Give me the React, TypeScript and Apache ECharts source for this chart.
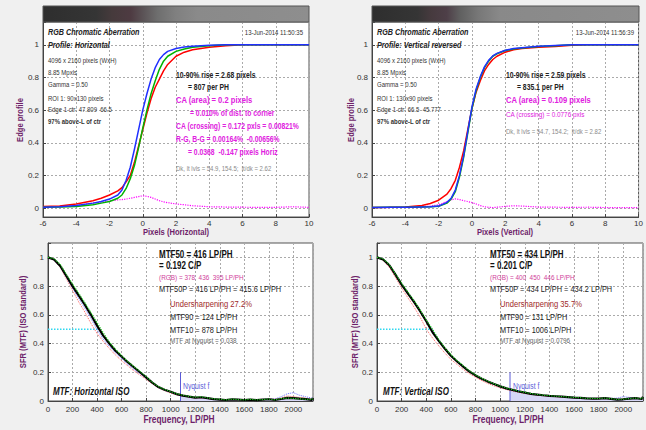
import React, { useEffect, useRef } from 'react';
import * as echarts from 'echarts';

const FONT = '"Liberation Sans", Arial, sans-serif';
const SX = 0.8; // horizontal condensing of annotation text

// ---------- Edge profile data (pixels) ----------
const edgeX = [-6, -5, -4, -3, -2.5, -2, -1.5, -1.25, -1, -0.75, -0.5, -0.25, 0, 0.25, 0.5, 0.75, 1, 1.25, 1.5, 2, 2.5, 3, 4, 5, 6, 7, 8, 9, 10];

const hRed = [0.010, 0.013, 0.025, 0.045, 0.060, 0.080, 0.105, 0.125, 0.160, 0.200, 0.280, 0.380, 0.480, 0.580, 0.670, 0.740, 0.790, 0.840, 0.880, 0.930, 0.955, 0.970, 0.985, 0.995, 1.0, 1.0, 1.0, 1.0, 1.0];
const hGreen = [0.005, 0.007, 0.010, 0.020, 0.030, 0.040, 0.060, 0.080, 0.120, 0.180, 0.260, 0.370, 0.490, 0.600, 0.700, 0.780, 0.850, 0.900, 0.930, 0.960, 0.975, 0.985, 0.995, 1.0, 1.0, 1.0, 1.0, 1.0, 1.0];
const hBlue = [0.005, 0.008, 0.015, 0.030, 0.040, 0.055, 0.080, 0.110, 0.170, 0.250, 0.360, 0.480, 0.600, 0.700, 0.790, 0.860, 0.910, 0.940, 0.960, 0.978, 0.987, 0.992, 0.998, 1.0, 1.0, 1.0, 1.0, 1.0, 1.0];
const hDiff = [0.005, 0.008, 0.015, 0.030, 0.035, 0.043, 0.050, 0.052, 0.055, 0.060, 0.065, 0.070, 0.075, 0.072, 0.065, 0.055, 0.045, 0.038, 0.033, 0.025, 0.020, 0.014, 0.008, 0.006, 0.005, 0.004, 0.004, 0.008, 0.004];

const vRed = [0.003, 0.004, 0.006, 0.015, 0.028, 0.048, 0.085, 0.120, 0.170, 0.250, 0.350, 0.480, 0.610, 0.710, 0.780, 0.840, 0.880, 0.910, 0.930, 0.955, 0.970, 0.978, 0.985, 0.990, 0.998, 1.0, 1.0, 1.0, 1.0];
const vGreen = [0.003, 0.004, 0.005, 0.007, 0.008, 0.011, 0.030, 0.055, 0.100, 0.190, 0.310, 0.460, 0.610, 0.720, 0.800, 0.860, 0.900, 0.930, 0.945, 0.965, 0.975, 0.980, 0.990, 0.995, 1.0, 1.0, 1.0, 1.0, 1.0];
const vBlue = [0.003, 0.004, 0.005, 0.007, 0.008, 0.012, 0.035, 0.060, 0.110, 0.200, 0.320, 0.470, 0.620, 0.730, 0.805, 0.865, 0.905, 0.932, 0.948, 0.967, 0.977, 0.982, 0.991, 0.996, 1.0, 1.0, 1.0, 1.0, 1.0];
const vDiff = [0.002, 0.003, 0.004, 0.008, 0.012, 0.020, 0.040, 0.050, 0.056, 0.052, 0.045, 0.040, 0.033, 0.025, 0.015, 0.008, 0.004, 0.003, 0.005, 0.010, 0.014, 0.012, 0.006, 0.005, 0.004, 0.005, 0.003, 0.003, 0.003];

// ---------- MTF data (LP/PH) ----------
const freq = [0, 50, 100, 150, 200, 250, 300, 350, 400, 450, 500, 550, 600, 650, 700, 750, 800, 850, 900, 950, 1000, 1050, 1100, 1150, 1200, 1250, 1300, 1350, 1400, 1450, 1500, 1550, 1600, 1650, 1700, 1750, 1800, 1850, 1900, 1950, 2000, 2050, 2100, 2150, 2160];

const hMtfK = [1.0, 0.985, 0.94, 0.87, 0.80, 0.735, 0.67, 0.60, 0.525, 0.455, 0.40, 0.35, 0.31, 0.27, 0.235, 0.20, 0.165, 0.128, 0.097, 0.078, 0.064, 0.048, 0.037, 0.030, 0.024, 0.026, 0.020, 0.013, 0.010, 0.007, 0.011, 0.009, 0.007, 0.010, 0.006, 0.009, 0.012, 0.007, 0.014, 0.022, 0.020, 0.016, 0.013, 0.008, 0.020];
const hMtfR = [1.0, 0.98, 0.93, 0.85, 0.77, 0.69, 0.62, 0.54, 0.47, 0.415, 0.365, 0.32, 0.28, 0.245, 0.21, 0.18, 0.15, 0.12, 0.092, 0.072, 0.055, 0.042, 0.034, 0.028, 0.020, 0.022, 0.017, 0.012, 0.009, 0.008, 0.010, 0.008, 0.009, 0.007, 0.010, 0.006, 0.015, 0.012, 0.020, 0.035, 0.030, 0.025, 0.020, 0.012, 0.015];
const hMtfG = [1.0, 0.99, 0.95, 0.88, 0.815, 0.75, 0.685, 0.615, 0.545, 0.475, 0.41, 0.36, 0.315, 0.275, 0.24, 0.205, 0.17, 0.13, 0.10, 0.08, 0.065, 0.05, 0.04, 0.032, 0.026, 0.030, 0.022, 0.015, 0.012, 0.008, 0.013, 0.010, 0.008, 0.012, 0.008, 0.010, 0.014, 0.008, 0.016, 0.020, 0.018, 0.015, 0.012, 0.010, 0.022];
const hMtfB = [1.0, 0.98, 0.935, 0.86, 0.785, 0.715, 0.645, 0.575, 0.495, 0.43, 0.38, 0.335, 0.295, 0.255, 0.22, 0.19, 0.158, 0.125, 0.095, 0.075, 0.06, 0.045, 0.035, 0.03, 0.022, 0.024, 0.018, 0.013, 0.010, 0.008, 0.012, 0.010, 0.009, 0.011, 0.008, 0.010, 0.016, 0.014, 0.030, 0.050, 0.058, 0.040, 0.030, 0.020, 0.025];

const vMtfK = [1.0, 0.985, 0.945, 0.88, 0.81, 0.75, 0.69, 0.625, 0.555, 0.48, 0.42, 0.365, 0.315, 0.275, 0.24, 0.205, 0.178, 0.155, 0.135, 0.118, 0.102, 0.088, 0.077, 0.067, 0.058, 0.050, 0.045, 0.040, 0.036, 0.033, 0.030, 0.027, 0.024, 0.022, 0.018, 0.017, 0.016, 0.020, 0.015, 0.010, 0.012, 0.016, 0.020, 0.014, 0.030];
const vMtfR = [1.0, 0.98, 0.93, 0.86, 0.785, 0.72, 0.655, 0.585, 0.50, 0.44, 0.385, 0.335, 0.29, 0.255, 0.22, 0.19, 0.165, 0.142, 0.122, 0.105, 0.092, 0.080, 0.070, 0.060, 0.052, 0.046, 0.041, 0.036, 0.034, 0.030, 0.028, 0.026, 0.022, 0.020, 0.020, 0.016, 0.018, 0.022, 0.016, 0.012, 0.014, 0.018, 0.022, 0.016, 0.025];
const vMtfG = [1.0, 0.99, 0.95, 0.885, 0.82, 0.76, 0.70, 0.635, 0.565, 0.50, 0.43, 0.372, 0.322, 0.282, 0.246, 0.21, 0.182, 0.158, 0.138, 0.12, 0.104, 0.09, 0.079, 0.069, 0.06, 0.052, 0.046, 0.041, 0.037, 0.034, 0.031, 0.028, 0.025, 0.023, 0.019, 0.018, 0.017, 0.021, 0.016, 0.011, 0.013, 0.017, 0.021, 0.015, 0.030];
const vMtfB = [1.0, 0.99, 0.948, 0.883, 0.818, 0.757, 0.697, 0.632, 0.562, 0.496, 0.428, 0.37, 0.32, 0.28, 0.244, 0.208, 0.18, 0.156, 0.136, 0.119, 0.103, 0.089, 0.078, 0.068, 0.059, 0.051, 0.045, 0.040, 0.036, 0.033, 0.030, 0.028, 0.025, 0.022, 0.020, 0.018, 0.017, 0.020, 0.018, 0.020, 0.030, 0.025, 0.020, 0.015, 0.020];

const nyquistF = 1080;
const nyqLineTop = 0.2;
const hMtf50 = 416;
const vMtf50 = 434;
const hNyqMtf = 0.038;
const vNyqMtf = 0.0796;

const edgeTicks = [-6, -4, -2, 0, 2, 4, 6, 8, 10];

const pairs = (xs: number[], ys: number[]) => xs.map((x, i) => [x, ys[i]]);

const nyqArea = (ys: number[], nyqVal: number) => {
  const out: number[][] = [[nyquistF, nyqVal]];
  freq.forEach((f, i) => {
    if (f > nyquistF) out.push([f, ys[i]]);
  });
  return out;
};

const fnt = (size: number, bold = false, italic = false) =>
  `${italic ? 'italic ' : ''}${bold ? 'bold ' : ''}${size}px ${FONT}`;

const txt = (
  x: number,
  y: number,
  text: string,
  o: { size?: number; bold?: boolean; italic?: boolean; color?: string; align?: string; rotate?: boolean } = {}
) => ({
  type: 'text',
  x,
  y,
  scaleX: SX,
  rotation: o.rotate ? Math.PI / 2 : 0,
  silent: true,
  z: 100,
  style: {
    text,
    fill: o.color || '#222',
    font: fnt(o.size || 7.5, o.bold, o.italic),
    textAlign: o.align || 'left',
    align: o.align || 'left',
    textVerticalAlign: 'middle',
    verticalAlign: 'middle',
  },
});

const MAG = '#e020e0';
const NAME_COLOR = '#6e1f6a';

const line = (ai: number, data: number[][], color: string, width: number, type: any = 'solid', z = 2) => ({
  type: 'line',
  xAxisIndex: ai,
  yAxisIndex: ai,
  data,
  symbol: 'none',
  showSymbol: false,
  silent: true,
  z,
  lineStyle: { color, width, type },
  itemStyle: { color },
});

const multipleFmt = (step: number) => (v: number) => {
  const k = v / step;
  if (Math.abs(k - Math.round(k)) > 1e-6) return '';
  const r = Math.round(v * 10) / 10;
  return String(r === 0 ? 0 : r);
};

const axisBase = {
  axisLine: { show: true, onZero: false, lineStyle: { color: '#444', width: 1 } },
  axisTick: { show: true, inside: true, length: 3, lineStyle: { color: '#444' } },
  splitLine: { show: true, lineStyle: { color: '#aaaaaa', type: [2, 2], width: 1 } },
};

const labelBase = { color: '#333', fontSize: 8, fontFamily: FONT };

const band = (x: number, w: number, stops: [number, string][]) => ({
  type: 'rect',
  shape: { x, y: 6, width: w, height: 16 },
  z: 50,
  silent: true,
  style: {
    fill: new echarts.graphic.LinearGradient(0, 0, 1, 0, stops.map(([offset, color]) => ({ offset, color }))),
    stroke: '#555',
    lineWidth: 1,
  },
});

export default function App() {
  const ref = useRef<HTMLDivElement>(null);

  useEffect(() => {
    if (!ref.current) return;
    const chart = echarts.init(ref.current, null, { renderer: 'svg' });

    const grids = [
      { left: 43, top: 22, width: 266, height: 195 },
      { left: 372, top: 22, width: 267, height: 195 },
      { left: 48, top: 243, width: 265, height: 158 },
      { left: 377, top: 243, width: 266, height: 158 },
    ].map((g) => ({ ...g, show: true, backgroundColor: '#fff', borderColor: '#555', borderWidth: 1 }));

    const xEdge = (gi: number) => ({
      ...axisBase,
      type: 'value',
      gridIndex: gi,
      min: edgeTicks[0],
      max: edgeTicks[edgeTicks.length - 1],
      interval: 2,
      axisLabel: { ...labelBase, margin: 2 },
    });
    const xFreq = (gi: number) => ({
      ...axisBase,
      type: 'value',
      gridIndex: gi,
      min: 0,
      max: freq[freq.length - 1],
      interval: 200,
      axisLabel: { ...labelBase, margin: 4, formatter: (v: number) => (v % 200 === 0 ? String(v) : '') },
    });
    const yEdge = (gi: number) => ({
      ...axisBase,
      type: 'value',
      gridIndex: gi,
      min: -0.055,
      max: 1.14,
      minInterval: 0.2,
      maxInterval: 0.2,
      axisLabel: { ...labelBase, margin: 4, formatter: multipleFmt(0.2) },
    });
    const yMtf = (gi: number) => ({
      ...axisBase,
      type: 'value',
      gridIndex: gi,
      min: 0,
      max: 1.1,
      minInterval: 0.2,
      maxInterval: 0.2,
      axisLabel: { ...labelBase, margin: 4, formatter: multipleFmt(0.2) },
    });

    const series = [
      // top-left: horizontal edge
      line(0, pairs(edgeX, hDiff), '#ff00ff', 1.2, 'dotted', 2),
      line(0, pairs(edgeX, hRed), '#ff0000', 1.5, 'solid', 3),
      line(0, pairs(edgeX, hGreen), '#00b400', 1.5, 'solid', 4),
      line(0, pairs(edgeX, hBlue), '#2030ff', 1.5, 'solid', 5),
      // top-right: vertical edge
      line(1, pairs(edgeX, vDiff), '#ff00ff', 1.2, 'dotted', 2),
      line(1, pairs(edgeX, vRed), '#ff0000', 1.5, 'solid', 3),
      line(1, pairs(edgeX, vGreen), '#00b400', 1.5, 'solid', 4),
      line(1, pairs(edgeX, vBlue), '#2030ff', 1.5, 'solid', 5),
      // bottom-left: horizontal MTF
      { ...line(2, nyqArea(hMtfK, hNyqMtf), 'rgba(0,0,0,0)', 0, 'solid', 1), areaStyle: { color: '#d6d6f6', opacity: 1 } },
      line(2, [[nyquistF, 0], [nyquistF, nyqLineTop]], '#5a5ad8', 1, 'solid', 2),
      line(2, [[0, 0.5], [hMtf50, 0.5]], '#30d8f0', 1.5, 'dotted', 2),
      line(2, pairs(freq, hMtfR), '#ff6060', 1, 'dotted', 3),
      line(2, pairs(freq, hMtfB), '#7070ff', 1, 'dotted', 3),
      line(2, pairs(freq, hMtfK), '#000000', 2.2, 'solid', 4),
      line(2, pairs(freq, hMtfG), '#20d020', 1.2, 'dotted', 5),
      // bottom-right: vertical MTF
      { ...line(3, nyqArea(vMtfK, vNyqMtf), 'rgba(0,0,0,0)', 0, 'solid', 1), areaStyle: { color: '#d6d6f6', opacity: 1 } },
      line(3, [[nyquistF, 0], [nyquistF, nyqLineTop]], '#5a5ad8', 1, 'solid', 2),
      line(3, [[0, 0.5], [vMtf50, 0.5]], '#30d8f0', 1.5, 'dotted', 2),
      line(3, pairs(freq, vMtfR), '#ff6060', 1, 'dotted', 3),
      line(3, pairs(freq, vMtfB), '#7070ff', 1, 'dotted', 3),
      line(3, pairs(freq, vMtfK), '#000000', 2.2, 'solid', 4),
      line(3, pairs(freq, vMtfG), '#20d020', 1.2, 'dotted', 5),
    ];

    const gray = '#333';
    const graphics: any[] = [
      band(43, 266, [
        [0, '#2e2e2e'], [0.2, '#353535'], [0.26, '#463a3c'], [0.33, '#4e3b42'], [0.38, '#5c5558'],
        [0.43, '#6e6e6e'], [0.5, '#808080'], [0.58, '#8a8a8a'], [1, '#8e8e8e'],
      ]),
      band(372, 267, [
        [0, '#2e2e2e'], [0.17, '#353535'], [0.22, '#463a3e'], [0.28, '#4e3f48'], [0.33, '#606060'],
        [0.4, '#787878'], [0.48, '#898989'], [1, '#8e8e8e'],
      ]),
      // axis names
      txt(176, 232, 'Pixels (Horizontal)', { size: 9.5, bold: true, color: NAME_COLOR, align: 'center' }),
      txt(505, 232, 'Pixels (Vertical)', { size: 9.5, bold: true, color: NAME_COLOR, align: 'center' }),
      txt(179, 419, 'Frequency, LP/PH', { size: 10.5, bold: true, color: NAME_COLOR, align: 'center' }),
      txt(508, 419, 'Frequency, LP/PH', { size: 10.5, bold: true, color: NAME_COLOR, align: 'center' }),
      txt(20, 120, 'Edge profile', { size: 9.5, bold: true, color: NAME_COLOR, align: 'center', rotate: true }),
      txt(351, 120, 'Edge profile', { size: 9.5, bold: true, color: NAME_COLOR, align: 'center', rotate: true }),
      txt(23, 322, 'SFR (MTF) (ISO standard)', { size: 9.5, bold: true, color: NAME_COLOR, align: 'center', rotate: true }),
      txt(355, 322, 'SFR (MTF) (ISO standard)', { size: 9.5, bold: true, color: NAME_COLOR, align: 'center', rotate: true }),
      // top-left texts
      txt(48, 32, 'RGB Chromatic Aberration', { size: 9, bold: true, italic: true }),
      txt(303, 32, '13-Jun-2014 11:50:35', { size: 7.5, color: gray, align: 'right' }),
      txt(48, 45, 'Profile: Horizontal', { size: 9, bold: true, italic: true }),
      txt(48, 60, '4096 x 2160 pixels (WxH)', { color: gray }),
      txt(48, 72, '8.85 Mpxls', { color: gray }),
      txt(48, 84, 'Gamma = 0.50', { color: gray }),
      txt(48, 98, 'ROI 1: 90x130 pixels', { color: gray }),
      txt(48, 109, 'Edge 1 ctr: 47.809  66.5', { color: gray }),
      txt(48, 121, '97% above-L of ctr', { bold: true, color: gray }),
      txt(176, 75, '10-90% rise = 2.68 pixels', { size: 8.5, bold: true }),
      txt(188, 87, '= 807 per PH', { size: 8.5, bold: true }),
      txt(176, 100, 'CA (area) = 0.2 pixels', { size: 9.5, bold: true, color: MAG }),
      txt(190, 113, '= 0.010% of dist. to corner', { size: 8.5, bold: true, color: MAG }),
      txt(176, 126, 'CA (crossing) = 0.172 pxls = 0.00821%', { size: 8.5, bold: true, color: MAG }),
      txt(176, 139, 'R-G, B-G = 0.00164%  -0.00656%', { size: 8.5, bold: true, color: MAG }),
      txt(188, 152, '= 0.0368  -0.147 pixels Horiz', { size: 8.5, bold: true, color: MAG }),
      txt(176, 168, 'Dk, lt lvls = 54.9, 154.5;  lt/dk = 2.62', { size: 7.5, color: '#8a8a8a' }),
      // top-right texts
      txt(377, 32, 'RGB Chromatic Aberration', { size: 9, bold: true, italic: true }),
      txt(634, 32, '13-Jun-2014 11:56:39', { size: 7.5, color: gray, align: 'right' }),
      txt(377, 45, 'Profile: Vertical reversed', { size: 9, bold: true, italic: true }),
      txt(377, 60, '4096 x 2160 pixels (WxH)', { color: gray }),
      txt(377, 72, '8.85 Mpxls', { color: gray }),
      txt(377, 84, 'Gamma = 0.50', { color: gray }),
      txt(377, 98, 'ROI 1: 130x90 pixels', { color: gray }),
      txt(377, 109, 'Edge 1 ctr: 66.5  45.777', { color: gray }),
      txt(377, 121, '97% above-L of ctr', { bold: true, color: gray }),
      txt(506, 75, '10-90% rise = 2.59 pixels', { size: 8.5, bold: true }),
      txt(517, 87, '= 835.1 per PH', { size: 8.5, bold: true }),
      txt(506, 100, 'CA (area) = 0.109 pixels', { size: 9.5, bold: true, color: MAG }),
      txt(506, 114, 'CA (crossing) = 0.0776 pxls', { size: 8, color: MAG }),
      txt(506, 131, 'Dk, lt lvls = 54.7, 154.2;  lt/dk = 2.82', { size: 7.5, color: '#8a8a8a' }),
      // bottom-left texts
      txt(159, 255, 'MTF50 = 416 LP/PH', { size: 10, bold: true, color: '#111' }),
      txt(159, 266, '= 0.192 C/P', { size: 10, bold: true, color: '#111' }),
      txt(159, 277, '(RGB) = 378  436  395 LP/PH', { size: 8, color: '#d0409a' }),
      txt(159, 289, 'MTF50P = 416 LP/PH = 415.6 LP/PH', { size: 9.2 }),
      txt(170, 304, 'Undersharpening 27.2%', { size: 9.5, color: '#a02828' }),
      txt(170, 317, 'MTF90 = 124 LP/PH', { size: 9.2 }),
      txt(170, 330, 'MTF10 = 878 LP/PH', { size: 9.2 }),
      txt(170, 340, 'MTF at Nyquist = 0.038', { size: 8, color: '#666' }),
      txt(53, 392, 'MTF: Horizontal ISO', { size: 10, bold: true, italic: true, color: '#111' }),
      txt(183, 386, 'Nyquist f', { size: 8.5, color: '#5a5ad8' }),
      // bottom-right texts
      txt(490, 255, 'MTF50 = 434 LP/PH', { size: 10, bold: true, color: '#111' }),
      txt(490, 266, '= 0.201 C/P', { size: 10, bold: true, color: '#111' }),
      txt(490, 277, '(RGB) = 400  450  446 LP/PH', { size: 8, color: '#d0409a' }),
      txt(490, 289, 'MTF50P = 434 LP/PH = 434.2 LP/PH', { size: 9.2 }),
      txt(500, 304, 'Undersharpening 35.7%', { size: 9.5, color: '#a02828' }),
      txt(500, 317, 'MTF90 = 131 LP/PH', { size: 9.2 }),
      txt(500, 330, 'MTF10 = 1006 LP/PH', { size: 9.2 }),
      txt(500, 340, 'MTF at Nyquist = 0.0796', { size: 8, color: '#666' }),
      txt(383, 392, 'MTF: Vertical ISO', { size: 10, bold: true, italic: true, color: '#111' }),
      txt(513, 386, 'Nyquist f', { size: 8.5, color: '#5a5ad8' }),
    ];

    chart.setOption({
      animation: false,
      backgroundColor: '#f0f0f0',
      textStyle: { fontFamily: FONT },
      grid: grids,
      xAxis: [xEdge(0), xEdge(1), xFreq(2), xFreq(3)],
      yAxis: [yEdge(0), yEdge(1), yMtf(2), yMtf(3)],
      series,
      graphic: graphics,
    });

    return () => chart.dispose();
  }, []);

  return (
    <div
      ref={ref}
      style={{ position: 'fixed', left: 0, top: 0, width: 646, height: 430, background: '#f0f0f0' }}
    />
  );
}
